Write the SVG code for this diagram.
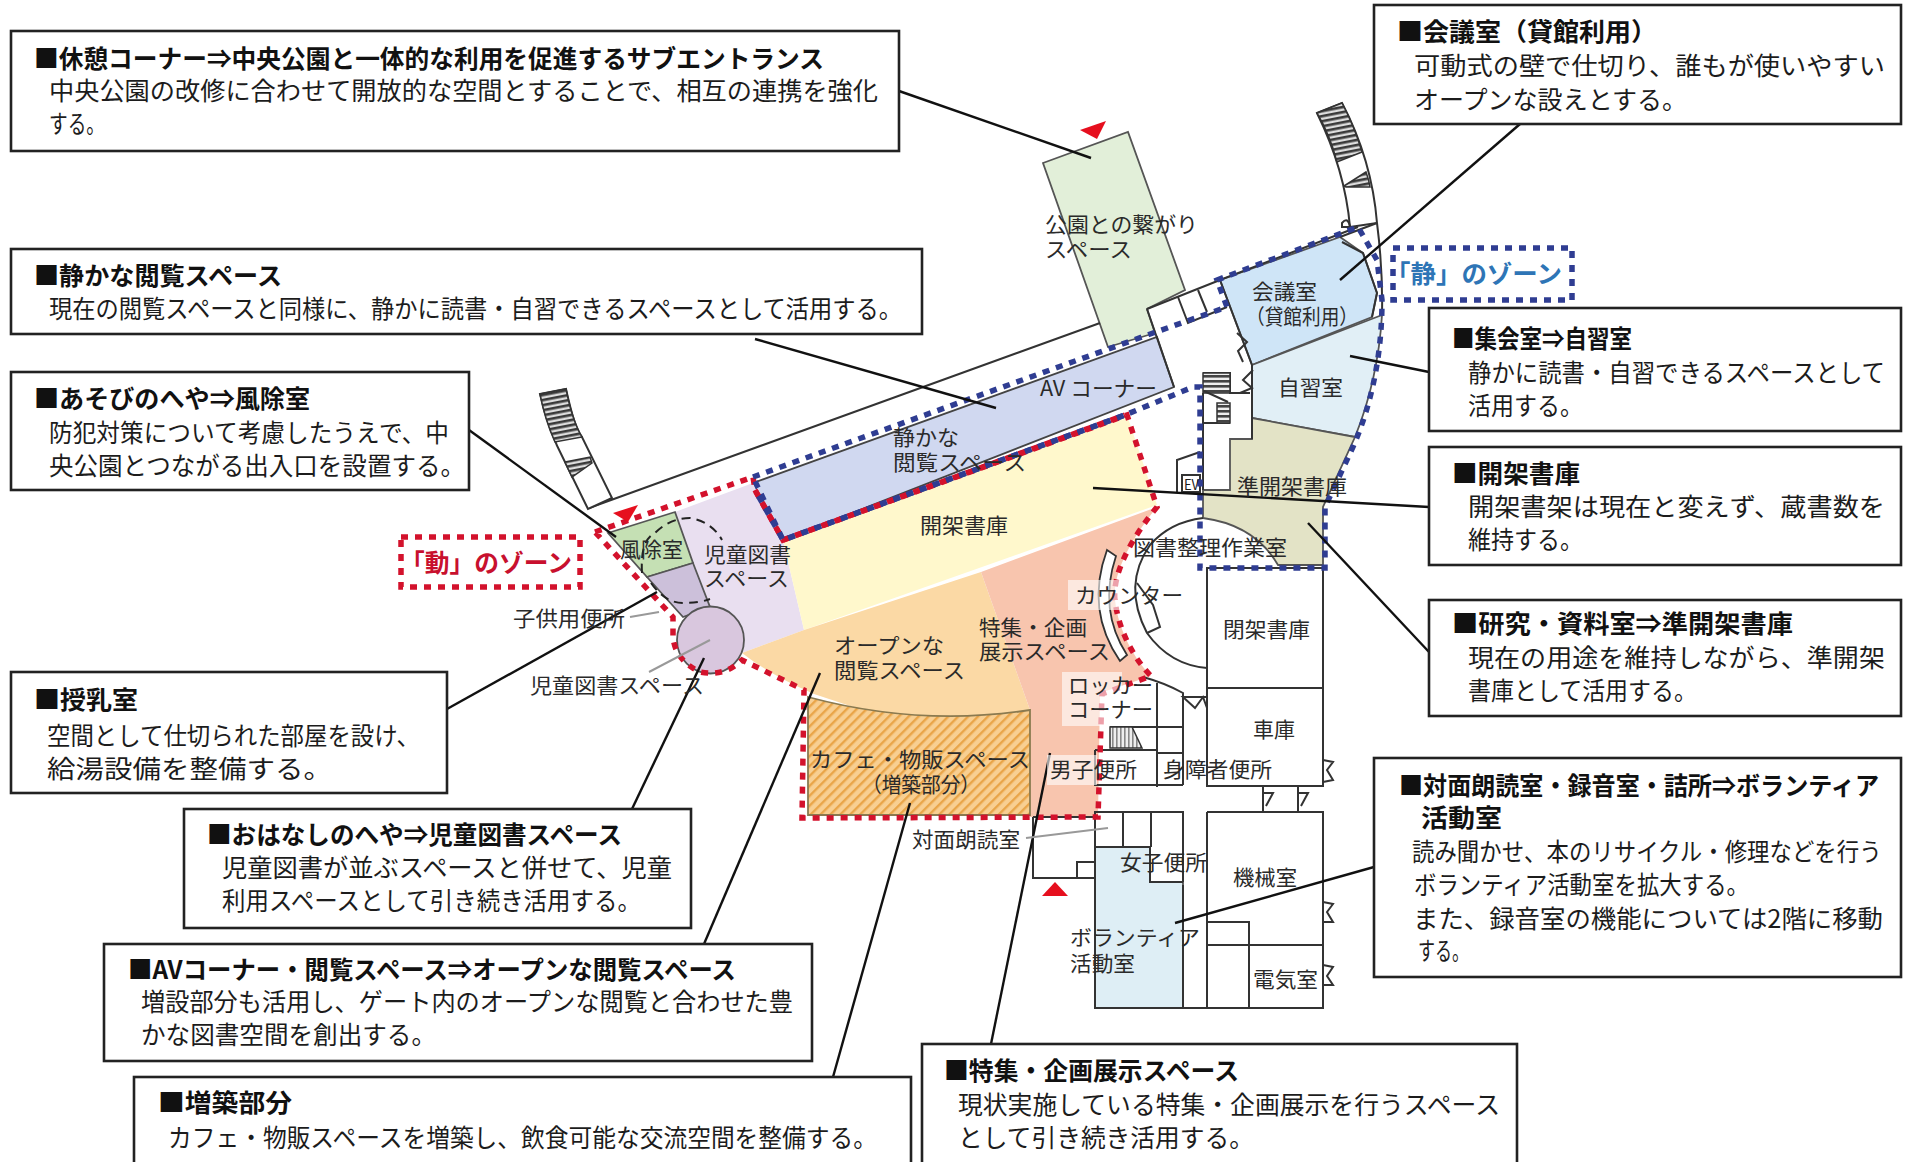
<svg xmlns="http://www.w3.org/2000/svg" width="1910" height="1162" viewBox="0 0 1910 1162">
<style>
text{font-family:"Noto Sans CJK JP","Noto Sans CJK SC",sans-serif;fill:#1a1a1a}
.t{font-size:25px;font-weight:700;fill:#111}
.b{font-size:25px;fill:#1c1c1c}
.m{font-size:21px;fill:#2a2a2a}
.box{fill:#fff;stroke:#222;stroke-width:2.6}
.wall{fill:none;stroke:#333;stroke-width:2}
.room{stroke:#555;stroke-width:1.8}
.lead{stroke:#111;stroke-width:2.4;fill:none}
.glead{stroke:#999;stroke-width:2;fill:none}
.red{fill:none;stroke:#d3122c;stroke-width:5.500;stroke-dasharray:7 7}
.blue{fill:none;stroke:#2f3d92;stroke-width:5.500;stroke-dasharray:7 7}
.tri{fill:#e60f1e}
.lab{fill:#fff;opacity:.6}
</style>
<defs>
<pattern id="hatch" width="7" height="7" patternUnits="userSpaceOnUse" patternTransform="rotate(-45)">
<rect width="7" height="7" fill="#f8cf92"/><rect width="7" height="2.4" fill="#e9a549"/>
</pattern>
<pattern id="stair" width="5" height="5" patternUnits="userSpaceOnUse">
<rect width="5" height="5" fill="#eee"/><rect width="5" height="2.6" fill="#444"/>
</pattern>
<pattern id="stairL" width="5" height="5" patternUnits="userSpaceOnUse" patternTransform="rotate(-11)">
<rect width="5" height="5" fill="#ddd"/><rect width="5" height="2.6" fill="#3a3a3a"/>
</pattern>
<pattern id="stairV" width="4" height="4" patternUnits="userSpaceOnUse">
<rect width="4" height="4" fill="#eee"/><rect width="1.6" height="4" fill="#888"/>
</pattern>
</defs>

<g id="floor-plan">
<path id="park" class="room" fill="#e2efd9" d="M1043,163L1128,132L1185,290L1147,309L1155,333L1108,347Z"/>
<path id="av" fill="#d0d8f0" stroke="#444" stroke-width="1.8" d="M753,483L1157,337L1174,387L783,540Z"/>
<path id="kids" fill="#e9dff0" stroke="none" d="M675,512L753,483L783,540L804,630L742,653L710,607Z"/>
<path id="kaze" class="room" fill="#c5e0b4" d="M608,533L675,512L693,563L647,577Z"/>
<path id="pdark" class="room" fill="#ccc0da" d="M647,577L693,563L710,607L683,617Z"/>
<path id="yellow" fill="#fff8cc" d="M783,540L1127,415L1157,505L804,630Z"/>
<path id="orange" fill="#fbd9a5" d="M742,653L804,630L981,572L1030,710L1030,760Q920,730 814,694Q770,675 742,653Z"/>
<path id="salmon" fill="#f8c5ae" d="M981,572L1157,507C1130,540 1112,575 1115,600C1118,630 1135,660 1151,676L1100,693L1098,817L1030,817L1030,710Z"/>
<path id="cafe" fill="url(#hatch)" stroke="#8a7a50" stroke-width="1.8" d="M808,697Q920,727 1030,710L1030,815L808,815Z"/>
<path id="meeting" class="room" fill="#cfe5f7" d="M1220,280L1340,237L1363,253L1377,293L1372,317L1252,365Z"/>
<path id="study" class="room" fill="#e1eff6" d="M1252,365L1382,315Q1378,380 1355,437L1252,418Z"/>
<path id="semi" class="room" fill="#e3e3c6" d="M1252,418L1355,437L1323,507L1323,565L1278,565Q1255,525 1203,518L1203,490L1230,490L1230,439L1252,439Z"/>
<path id="volunteer" class="room" fill="#deeef5" d="M1095,847L1150,847L1150,882L1183,882L1183,1008L1095,1008Z"/>
<circle id="round" cx="710.500" cy="640" r="33.500" fill="#d9c7de" stroke="#555" stroke-width="1.8"/>

<path class="wall" d="M589,508L1100,323M1147,309L1220,280L1358,227"/>
<path class="wall" d="M1147,309L1174,387M1178,297L1188,323L1227,307M1198,290L1207,312M1220,280L1252,365"/>
<path class="wall" d="M1252,365L1252,439M1203,373H1230V393H1250M1203,393V423H1230M1203,423V490M1177,493V460L1200,452"/>
<rect class="wall" x="1182" y="475" width="18" height="17"/>
<rect x="1203" y="373" width="27" height="20" fill="url(#stair)" stroke="#333" stroke-width="1.500"/>
<rect x="1217" y="403" width="13" height="20" fill="url(#stair)" stroke="#333" stroke-width="1.500"/>
<path class="wall" d="M1204,391L1228,402"/>
<path fill="#fff" stroke="#333" stroke-width="2" d="M540,394L566,389Q575,430 582,437L612,498L588,509L565,462Q548,430 540,394Z"/>
<path fill="url(#stairL)" stroke="#333" stroke-width="1.500" d="M540,394L566,389Q572,420 582,437L555,442Q545,420 540,394Z"/>
<path fill="url(#stairL)" stroke="#333" stroke-width="1.500" d="M565,462L590,457L592,463L572,477Z"/>
<path fill="#fff" stroke="#333" stroke-width="2" d="M1317,113L1342,103Q1372,160 1377,223L1350,227Q1345,170 1317,113Z"/>
<path fill="url(#stairL)" stroke="#333" stroke-width="1.500" d="M1317,113L1342,103Q1355,128 1362,152L1337,162Q1330,135 1317,113Z"/>
<path fill="url(#stairL)" stroke="#333" stroke-width="1.500" d="M1344,186L1366,172Q1369,180 1370,187L1346,187Z"/>
<path class="wall" d="M1377,223L1340,237M1342,242L1363,253L1377,293L1372,317M1377,223Q1383,270 1382,315"/>
<path class="wall" d="M1342,223Q1348,216 1350,227H1342ZM1237,333L1247,342L1238,351L1243,362M1253,370L1243,380L1252,388L1240,393"/>
<path class="wall" d="M1203,518Q1170,522 1150,545Q1122,585 1147,633Q1170,665 1207,668"/>
<path fill="#fff" stroke="#333" stroke-width="1.800" d="M1107,550L1116,556Q1098,610 1127,655L1120,661Q1085,610 1107,550Z"/>
<path class="wall" d="M1137,583L1153,605L1160,627L1147,633"/>
<path class="wall" d="M1143,677Q1165,683 1183,693V785M1157,683V787M1110,727H1183M1157,753H1183M1095,750H1157M1095,750V785H1183"/>
<path fill="url(#stairV)" stroke="#333" stroke-width="1.500" d="M1110,727H1132L1142,748H1110Z"/>
<path class="wall" d="M1183,697L1195,708L1203,697L1207,708V697Z"/>
<path class="wall" d="M1207,568H1323V786H1207ZM1207,688H1323M1207,812H1323V1008H1095V812H1183V882M1123,812V847M1151,812V847M1095,847H1150V882H1183M1183,885V1008M1207,812V1008M1207,945H1323M1207,922H1249V1008"/>
<path class="wall" d="M1033,817V878H1095M1077,878V862H1095M1033,817H1095"/>
<path class="wall" d="M1323,760L1333,762L1327,770L1333,780L1323,782M1323,902L1333,904L1327,912L1333,922L1323,922M1323,965L1333,967L1327,976L1333,985L1323,985"/>
<path class="wall" d="M1263,786V812M1263,793H1273L1266,806M1298,786V812M1298,793H1308L1301,806"/>
<path fill="none" stroke="#222" stroke-width="2" stroke-dasharray="9 6" d="M642,573Q640,540 655,533Q670,518 690,518Q712,522 722,540M651,583Q665,603 683,603Q700,603 710,599"/>
<path class="red" d="M595,532L753,477L755,490L783,540L1127,415L1157,507C1130,540 1112,575 1115,600C1118,630 1135,660 1151,676L1102,694L1098,817L802,818L804,690L742,660Q725,677 700,672Q675,660 673,637L673,617Z"/>
<path class="blue" d="M753,477L1000,388L1153,333L1227,307L1217,280L1358,227L1377,260L1382,300Q1382,380 1353,447L1325,507V568H1200V387H1193L1125,415L783,540Z"/>
<path class="red" d="M755,490L783,540L1125,415"/>
<path class="blue" stroke-dashoffset="7" d="M755,490L783,540L1125,415"/>
<path class="tri" d="M1080,130L1106,121L1097,139Z"/>
<path class="tri" d="M613,513L638,505L628,522Z"/>
<path class="tri" d="M1042,896H1068L1055,882Z"/>
</g>

<g id="connectors">
<path class="lead" d="M899,91L1091,158"/>
<path class="lead" d="M755,339L996,408"/>
<path class="lead" d="M469,430L616,537"/>
<path class="lead" d="M447,709L657,592"/>
<path class="lead" d="M632,809L704,658"/>
<path class="lead" d="M704,944L820,673"/>
<path class="lead" d="M833,1077L910,803"/>
<path class="lead" d="M991,1044L1050,753"/>
<path class="lead" d="M1520,124L1340,280"/>
<path class="lead" d="M1429,372L1350,356"/>
<path class="lead" d="M1429,507L1093,488"/>
<path class="lead" d="M1429,652L1308,523"/>
<path class="lead" d="M1374,867L1175,923"/>
<path class="glead" d="M630,617L659,612"/>
<path class="glead" d="M649,672L710,640"/>
<path class="glead" d="M1026,838L1108,828"/>
</g>

<g id="map-labels">
<rect class="lab" x="1068" y="580" width="60" height="30"/>
<rect class="lab" x="1062" y="672" width="60" height="54"/>
<rect class="lab" x="1047" y="755" width="50" height="30"/>
<text class="m" x="1045" y="232" textLength="153" lengthAdjust="spacingAndGlyphs">公園との繋がり</text>
<text class="m" x="1045" y="257" textLength="87" lengthAdjust="spacingAndGlyphs">スペース</text>
<text class="m" x="1252" y="299" textLength="65" lengthAdjust="spacingAndGlyphs">会議室</text>
<text class="m" x="1246" y="324" textLength="112" lengthAdjust="spacingAndGlyphs">（貸館利用）</text>
<text class="m" x="1040" y="396" textLength="117" lengthAdjust="spacingAndGlyphs">AV コーナー</text>
<text class="m" x="1278" y="395" textLength="65" lengthAdjust="spacingAndGlyphs">自習室</text>
<text class="m" x="1237" y="494" textLength="110" lengthAdjust="spacingAndGlyphs">準開架書庫</text>
<text class="m" x="1133" y="555" textLength="154" lengthAdjust="spacingAndGlyphs">図書整理作業室</text>
<text class="m" x="893" y="445" textLength="66" lengthAdjust="spacingAndGlyphs">静かな</text>
<text class="m" x="893" y="470" textLength="133" lengthAdjust="spacingAndGlyphs">閲覧スペース</text>
<text class="m" x="920" y="533" textLength="88" lengthAdjust="spacingAndGlyphs">開架書庫</text>
<text class="m" x="704" y="562" textLength="87" lengthAdjust="spacingAndGlyphs">児童図書</text>
<text class="m" x="704" y="586" textLength="85" lengthAdjust="spacingAndGlyphs">スペース</text>
<text class="m" x="620" y="557" textLength="63" lengthAdjust="spacingAndGlyphs">風除室</text>
<text class="m" x="513" y="626" textLength="112" lengthAdjust="spacingAndGlyphs">子供用便所</text>
<text class="m" x="530" y="693" textLength="174" lengthAdjust="spacingAndGlyphs">児童図書スペース</text>
<text class="m" x="834" y="653" textLength="110" lengthAdjust="spacingAndGlyphs">オープンな</text>
<text class="m" x="834" y="678" textLength="131" lengthAdjust="spacingAndGlyphs">閲覧スペース</text>
<text class="m" x="979" y="635" textLength="108" lengthAdjust="spacingAndGlyphs">特集・企画</text>
<text class="m" x="979" y="659" textLength="131" lengthAdjust="spacingAndGlyphs">展示スペース</text>
<text class="m" x="1075" y="603" textLength="108" lengthAdjust="spacingAndGlyphs">カウンター</text>
<text class="m" x="1068" y="693" textLength="85" lengthAdjust="spacingAndGlyphs">ロッカー</text>
<text class="m" x="1068" y="717" textLength="85" lengthAdjust="spacingAndGlyphs">コーナー</text>
<text class="m" x="810" y="767" textLength="220" lengthAdjust="spacingAndGlyphs">カフェ・物販スペース</text>
<text class="m" x="862" y="792" textLength="118" lengthAdjust="spacingAndGlyphs">（増築部分）</text>
<text class="m" x="1050" y="777" textLength="87" lengthAdjust="spacingAndGlyphs">男子便所</text>
<text class="m" x="1163" y="777" textLength="109" lengthAdjust="spacingAndGlyphs">身障者便所</text>
<text class="m" x="912" y="847" textLength="108" lengthAdjust="spacingAndGlyphs">対面朗読室</text>
<text class="m" x="1120" y="870" textLength="87" lengthAdjust="spacingAndGlyphs">女子便所</text>
<text class="m" x="1233" y="885" textLength="64" lengthAdjust="spacingAndGlyphs">機械室</text>
<text class="m" x="1070" y="945" textLength="130" lengthAdjust="spacingAndGlyphs">ボランティア</text>
<text class="m" x="1070" y="971" textLength="65" lengthAdjust="spacingAndGlyphs">活動室</text>
<text class="m" x="1253" y="987" textLength="65" lengthAdjust="spacingAndGlyphs">電気室</text>
<text class="m" x="1223" y="637" textLength="87" lengthAdjust="spacingAndGlyphs">閉架書庫</text>
<text class="m" x="1253" y="737" textLength="42" lengthAdjust="spacingAndGlyphs">車庫</text>
<text x="1184" y="490" font-size="14" fill="#333" textLength="15" lengthAdjust="spacingAndGlyphs">EV</text>
</g>

<g id="zone-move">
<rect class="red" x="401" y="537" width="179" height="50"/>
<text x="400" y="572" font-size="25" font-weight="700" style="fill:#c8102e" textLength="172" lengthAdjust="spacingAndGlyphs">「動」のゾーン</text>
</g>
<g id="zone-quiet">
<rect class="blue" x="1393" y="248" width="179" height="52"/>
<text x="1385" y="283" font-size="25" font-weight="700" style="fill:#2e75b6" textLength="177" lengthAdjust="spacingAndGlyphs">「静」のゾーン</text>
</g>

<g id="n1">
<rect class="box" x="11" y="31" width="888" height="120"/>
<text class="t" x="34" y="68" textLength="790" lengthAdjust="spacingAndGlyphs">■休憩コーナー⇒中央公園と一体的な利用を促進するサブエントランス</text>
<text class="b" x="49" y="100" textLength="829" lengthAdjust="spacingAndGlyphs">中央公園の改修に合わせて開放的な空間とすることで、相互の連携を強化</text>
<text class="b" x="49" y="133" textLength="56" lengthAdjust="spacingAndGlyphs">する。</text>
</g>
<g id="n2">
<rect class="box" x="11" y="249" width="911" height="85"/>
<text class="t" x="34" y="285" textLength="248" lengthAdjust="spacingAndGlyphs">■静かな閲覧スペース</text>
<text class="b" x="49" y="318" textLength="853" lengthAdjust="spacingAndGlyphs">現在の閲覧スペースと同様に、静かに読書・自習できるスペースとして活用する。</text>
</g>
<g id="n3">
<rect class="box" x="11" y="372" width="458" height="118"/>
<text class="t" x="34" y="408" textLength="276" lengthAdjust="spacingAndGlyphs">■あそびのへや⇒風除室</text>
<text class="b" x="49" y="442" textLength="400" lengthAdjust="spacingAndGlyphs">防犯対策について考慮したうえで、中</text>
<text class="b" x="49" y="475" textLength="416" lengthAdjust="spacingAndGlyphs">央公園とつながる出入口を設置する。</text>
</g>
<g id="n4">
<rect class="box" x="11" y="672" width="436" height="121"/>
<text class="t" x="34" y="709" textLength="104" lengthAdjust="spacingAndGlyphs">■授乳室</text>
<text class="b" x="47" y="745" textLength="373" lengthAdjust="spacingAndGlyphs">空間として仕切られた部屋を設け、</text>
<text class="b" x="47" y="778" textLength="285" lengthAdjust="spacingAndGlyphs">給湯設備を整備する。</text>
</g>
<g id="n5">
<rect class="box" x="184" y="809" width="507" height="119"/>
<text class="t" x="207" y="844" textLength="415" lengthAdjust="spacingAndGlyphs">■おはなしのへや⇒児童図書スペース</text>
<text class="b" x="222" y="877" textLength="450" lengthAdjust="spacingAndGlyphs">児童図書が並ぶスペースと併せて、児童</text>
<text class="b" x="222" y="910" textLength="419" lengthAdjust="spacingAndGlyphs">利用スペースとして引き続き活用する。</text>
</g>
<g id="n6">
<rect class="box" x="104" y="944" width="708" height="117"/>
<text class="t" x="128" y="979" textLength="608" lengthAdjust="spacingAndGlyphs">■AVコーナー・閲覧スペース⇒オープンな閲覧スペース</text>
<text class="b" x="141" y="1011" textLength="652" lengthAdjust="spacingAndGlyphs">増設部分も活用し、ゲート内のオープンな閲覧と合わせた豊</text>
<text class="b" x="141" y="1044" textLength="295" lengthAdjust="spacingAndGlyphs">かな図書空間を創出する。</text>
</g>
<g id="n7">
<rect class="box" x="134" y="1077" width="777" height="90"/>
<text class="t" x="158" y="1112" textLength="134" lengthAdjust="spacingAndGlyphs">■増築部分</text>
<text class="b" x="168" y="1147" textLength="709" lengthAdjust="spacingAndGlyphs">カフェ・物販スペースを増築し、飲食可能な交流空間を整備する。</text>
</g>
<g id="n8">
<rect class="box" x="922" y="1044" width="595" height="123"/>
<text class="t" x="944" y="1080" textLength="295" lengthAdjust="spacingAndGlyphs">■特集・企画展示スペース</text>
<text class="b" x="958" y="1114" textLength="542" lengthAdjust="spacingAndGlyphs">現状実施している特集・企画展示を行うスペース</text>
<text class="b" x="958" y="1147" textLength="296" lengthAdjust="spacingAndGlyphs">として引き続き活用する。</text>
</g>
<g id="n9">
<rect class="box" x="1374" y="5" width="527" height="119"/>
<text class="t" x="1397" y="41" textLength="260" lengthAdjust="spacingAndGlyphs">■会議室（貸館利用）</text>
<text class="b" x="1414" y="75" textLength="471" lengthAdjust="spacingAndGlyphs">可動式の壁で仕切り、誰もが使いやすい</text>
<text class="b" x="1414" y="109" textLength="273" lengthAdjust="spacingAndGlyphs">オープンな設えとする。</text>
</g>
<g id="n10">
<rect class="box" x="1429" y="308" width="472" height="123"/>
<text class="t" x="1452" y="348" textLength="180" lengthAdjust="spacingAndGlyphs">■集会室⇒自習室</text>
<text class="b" x="1468" y="382" textLength="417" lengthAdjust="spacingAndGlyphs">静かに読書・自習できるスペースとして</text>
<text class="b" x="1468" y="415" textLength="115" lengthAdjust="spacingAndGlyphs">活用する。</text>
</g>
<g id="n11">
<rect class="box" x="1429" y="447" width="472" height="118"/>
<text class="t" x="1452" y="483" textLength="128" lengthAdjust="spacingAndGlyphs">■開架書庫</text>
<text class="b" x="1468" y="516" textLength="417" lengthAdjust="spacingAndGlyphs">開架書架は現在と変えず、蔵書数を</text>
<text class="b" x="1468" y="549" textLength="115" lengthAdjust="spacingAndGlyphs">維持する。</text>
</g>
<g id="n12">
<rect class="box" x="1429" y="600" width="472" height="116"/>
<text class="t" x="1452" y="633" textLength="341" lengthAdjust="spacingAndGlyphs">■研究・資料室⇒準開架書庫</text>
<text class="b" x="1468" y="667" textLength="417" lengthAdjust="spacingAndGlyphs">現在の用途を維持しながら、準開架</text>
<text class="b" x="1468" y="700" textLength="229" lengthAdjust="spacingAndGlyphs">書庫として活用する。</text>
</g>
<g id="n13">
<rect class="box" x="1374" y="758" width="527" height="219"/>
<text class="t" x="1399" y="795" textLength="480" lengthAdjust="spacingAndGlyphs">■対面朗読室・録音室・詰所⇒ボランティア</text>
<text class="t" x="1421" y="827" textLength="81" lengthAdjust="spacingAndGlyphs">活動室</text>
<text class="b" transform="translate(1412,861) scale(.897,1)">読み聞かせ、本のリサイクル・修理などを行う</text>
<text class="b" x="1414" y="894" textLength="335" lengthAdjust="spacingAndGlyphs">ボランティア活動室を拡大する。</text>
<text class="b" x="1413" y="928" textLength="470" lengthAdjust="spacingAndGlyphs">また、録音室の機能については2階に移動</text>
<text class="b" x="1418" y="960" textLength="51" lengthAdjust="spacingAndGlyphs">する。</text>
</g>
</svg>
